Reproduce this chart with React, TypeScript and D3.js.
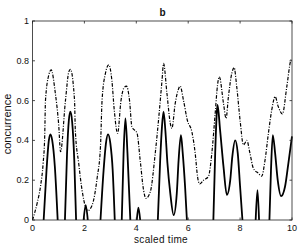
import { useEffect, useRef } from 'react';
import * as d3 from 'd3';

// dash-dot curve (upper)
const upperT = [
  0, 0.18, 0.31, 0.41, 0.47, 0.5, 0.63, 0.72, 0.88, 1.01, 1.08, 1.27, 1.4, 1.46,
  1.62, 1.65, 1.78, 1.91, 2.04, 2.13, 2.3, 2.49, 2.62, 2.68, 2.81, 2.94, 3.06,
  3.15, 3.28, 3.41, 3.51, 3.62, 3.74, 3.83, 4.03, 4.15, 4.28, 4.37, 4.54, 4.73,
  4.88, 4.99, 5.05, 5.18, 5.31, 5.37, 5.5, 5.63, 5.69, 5.82, 5.97, 6.14, 6.27,
  6.36, 6.44, 6.59, 6.78, 6.91, 7.04, 7.13, 7.2, 7.36, 7.46, 7.55, 7.68, 7.77,
  7.87, 8.0, 8.13, 8.26, 8.38, 8.51, 8.7, 8.83, 8.96, 9.09, 9.22, 9.35, 9.47,
  9.63, 9.8, 9.95, 10,
];
const upperC = [
  0, 0.085, 0.17, 0.285, 0.42, 0.6, 0.73, 0.754, 0.637, 0.477, 0.343, 0.6, 0.745,
  0.757, 0.6, 0.45, 0.285, 0.15, 0.067, 0.047, 0.075, 0.21, 0.37, 0.6, 0.737,
  0.78, 0.7, 0.553, 0.435, 0.6, 0.66, 0.673, 0.6, 0.469, 0.435, 0.3, 0.15, 0.109,
  0.142, 0.335, 0.536, 0.7, 0.787, 0.637, 0.486, 0.46, 0.586, 0.66, 0.673, 0.6,
  0.5, 0.444, 0.335, 0.218, 0.181, 0.2, 0.218, 0.335, 0.536, 0.678, 0.72, 0.586,
  0.511, 0.62, 0.737, 0.766, 0.67, 0.5, 0.377, 0.4, 0.335, 0.26, 0.235, 0.22,
  0.3, 0.435, 0.553, 0.62, 0.57, 0.533, 0.67, 0.8, 0.81,
];

// solid curve (concurrence), zero between humps
const solidT = [
  0, 0.43, 0.54, 0.63, 0.69, 0.76, 0.86, 0.97,
  1.25, 1.33, 1.4, 1.46, 1.53, 1.61, 1.68,
  1.97, 2.05, 2.13,
  2.62, 2.74, 2.83, 2.91, 3.0, 3.09, 3.17,
  3.44, 3.51, 3.58, 3.66, 3.77,
  4.02, 4.08, 4.15,
  4.83, 4.92, 4.99, 5.05, 5.12, 5.2, 5.31, 5.44, 5.56, 5.63, 5.72, 5.79, 5.88, 5.95,
  6.97, 7.04, 7.1, 7.13, 7.23, 7.36, 7.49, 7.62, 7.7, 7.81, 7.91, 8.0, 8.09,
  8.6, 8.67, 8.73,
  9.13, 9.19, 9.26, 9.35, 9.45, 9.58, 9.73, 9.86, 10,
];
const solidC = [
  0, 0, 0.25, 0.4, 0.43, 0.4, 0.27, 0,
  0, 0.33, 0.5, 0.544, 0.49, 0.3, 0,
  0, 0.075, 0,
  0, 0.25, 0.385, 0.43, 0.385, 0.25, 0,
  0, 0.335, 0.511, 0.335, 0,
  0, 0.062, 0,
  0, 0.3, 0.47, 0.544, 0.45, 0.285, 0.134, 0.025, 0.134, 0.3, 0.427, 0.335, 0.167, 0,
  0, 0.335, 0.536, 0.578, 0.45, 0.268, 0.126, 0.2, 0.318, 0.4, 0.335, 0.167, 0,
  0, 0.15, 0,
  0, 0.25, 0.427, 0.335, 0.2, 0.12, 0.167, 0.285, 0.42,
];

const xTicks = [0, 2, 4, 6, 8, 10];
const yTicks = [0, 0.2, 0.4, 0.6, 0.8, 1];

const W = 300;
const H = 245;
const M = { left: 32.5, right: 8, top: 21, bottom: 25 };
const FONT = '"Liberation Sans", Arial, Helvetica, sans-serif';

export default function App() {
  const ref = useRef<SVGSVGElement>(null);

  useEffect(() => {
    if (!ref.current) return;
    const svg = d3.select(ref.current);
    svg.selectAll('*').remove();

    const x = d3.scaleLinear().domain([0, 10]).range([M.left, W - M.right]);
    const y = d3.scaleLinear().domain([0, 1]).range([H - M.bottom, M.top]);

    svg.append('rect').attr('width', W).attr('height', H).attr('fill', '#fff');

    const plot = svg.append('g');

    const line = d3.line<[number, number]>()
      .x(d => x(d[0]))
      .y(d => y(d[1]))
      .curve(d3.curveMonotoneX);

    // dash-dot series
    const upper: [number, number][] = upperT.map((t, i) => [t, upperC[i]]);
    plot.append('path')
      .attr('d', line(upper) || '')
      .attr('fill', 'none')
      .attr('stroke', '#000')
      .attr('stroke-width', 1.2)
      .attr('stroke-dasharray', '3.5,1.5,1,1.5');

    // solid series: split into humps bounded by zeros
    const segs: [number, number][][] = [];
    let cur: [number, number][] = [];
    solidT.forEach((t, i) => {
      const c = solidC[i];
      if (c === 0) {
        if (cur.length > 1) {
          cur.push([t, c]);
          segs.push(cur);
        }
        cur = [[t, c]];
      } else {
        cur.push([t, c]);
      }
    });
    if (cur.length > 1) segs.push(cur);

    segs.forEach(s => {
      plot.append('path')
        .attr('d', line(s) || '')
        .attr('fill', 'none')
        .attr('stroke', '#000')
        .attr('stroke-width', 1.8)
        .attr('stroke-linejoin', 'round');
    });

    // box + ticks
    const ax = svg.append('g').attr('stroke', '#222').attr('stroke-width', 0.8);
    ax.append('rect')
      .attr('x', x(0)).attr('y', y(1))
      .attr('width', x(10) - x(0)).attr('height', y(0) - y(1))
      .attr('fill', 'none');
    const tl = 2.5;
    xTicks.forEach(t => {
      ax.append('line').attr('x1', x(t)).attr('x2', x(t)).attr('y1', y(0)).attr('y2', y(0) - tl);
      ax.append('line').attr('x1', x(t)).attr('x2', x(t)).attr('y1', y(1)).attr('y2', y(1) + tl);
    });
    yTicks.forEach(v => {
      ax.append('line').attr('x1', x(0)).attr('x2', x(0) + tl).attr('y1', y(v)).attr('y2', y(v));
      ax.append('line').attr('x1', x(10)).attr('x2', x(10) - tl).attr('y1', y(v)).attr('y2', y(v));
    });

    const txt = svg.append('g').attr('font-family', FONT).attr('fill', '#111');
    xTicks.forEach(t => {
      txt.append('text')
        .attr('x', x(t)).attr('y', y(0) + 10.5)
        .attr('text-anchor', 'middle').attr('font-size', 9)
        .text(String(t));
    });
    yTicks.forEach(v => {
      txt.append('text')
        .attr('x', x(0) - 3.5).attr('y', y(v) + 3)
        .attr('text-anchor', 'end').attr('font-size', 9)
        .text(String(v));
    });

    txt.append('text')
      .attr('x', 161).attr('y', 242.5)
      .attr('text-anchor', 'middle').attr('font-size', 10)
      .attr('letter-spacing', 0.3)
      .text('scaled time');
    txt.append('text')
      .attr('transform', `translate(11,${124}) rotate(-90)`)
      .attr('text-anchor', 'middle').attr('font-size', 11)
      .text('concurrence');
    txt.append('text')
      .attr('x', 162.5).attr('y', 16)
      .attr('text-anchor', 'middle').attr('font-size', 10).attr('font-weight', 'bold')
      .text('b');
  }, []);

  return (
    <svg
      ref={ref}
      width={W}
      height={H}
      viewBox={`0 0 ${W} ${H}`}
      style={{ position: 'absolute', left: 0, top: 0, display: 'block' }}
    />
  );
}
